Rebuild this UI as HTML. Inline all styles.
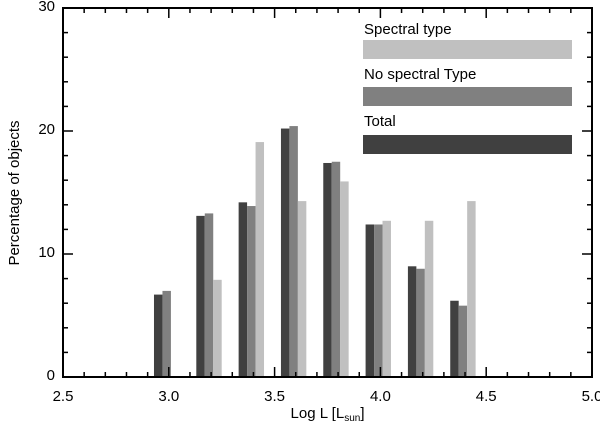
<!DOCTYPE html>
<html><head><meta charset="utf-8"><style>
body{margin:0;background:#fff}
svg text{font-family:"Liberation Sans",sans-serif;fill:#000}
</style></head><body>
<svg id="chart" width="600" height="432" xmlns="http://www.w3.org/2000/svg"></svg>
<script>
const categories=[3.0,3.2,3.4,3.6,3.8,4.0,4.2,4.4];
const totalValues=[6.7,13.1,14.2,20.2,17.4,12.4,9.0,6.2];
const noSpecValues=[7.0,13.3,13.9,20.4,17.5,12.4,8.8,5.8];
const specValues=[0,7.9,19.1,14.3,15.9,12.7,12.7,14.3];
const xTickLabels=["2.5","3.0","3.5","4.0","4.5","5.0"];
const yTickLabels=["0","10","20","30"];
const L=63,R=592,T=8,B=377;
const xMin=2.5,xMax=5.0,yMin=0,yMax=30;
const X=v=>L+(v-xMin)/(xMax-xMin)*(R-L);
const Y=v=>B-(v-yMin)/(yMax-yMin)*(B-T);
const svg=document.getElementById('chart');
const NS="http://www.w3.org/2000/svg";
function mk(tag,attrs,parent){const e=document.createElementNS(NS,tag);for(const k in attrs)e.setAttribute(k,attrs[k]);(parent||svg).appendChild(e);return e;}
const series=[[totalValues,"#404040",-0.07,"total"],[noSpecValues,"#808080",-0.03,"no-spectral-type"],[specValues,"#c0c0c0",0.01,"spectral-type"]];
series.forEach(([vals,col,off,nm])=>{
  vals.forEach((v,i)=>{
    if(v<=0)return;
    const x0=X(categories[i]+off),x1=X(categories[i]+off+0.04);
    const r=mk('rect',{x:x0,y:Y(v),width:x1-x0,height:Y(0)-Y(v),fill:col});
    
    
  });
});
// axes box
const box=mk('rect',{x:L,y:T,width:R-L,height:B-T,fill:'none',stroke:'#000','stroke-width':2});


// x ticks
for(let k=0;k<=25;k++){
  const v=xMin+k*0.1,x=X(v),len=(k%5===0)?10:5;
  mk('line',{x1:x,y1:B,x2:x,y2:B-len,stroke:'#000','stroke-width':1.5});
  mk('line',{x1:x,y1:T,x2:x,y2:T+len,stroke:'#000','stroke-width':1.5});
}
xTickLabels.forEach(s=>{
  const t=mk('text',{x:X(parseFloat(s)),y:B+24,'text-anchor':'middle','font-size':15});
  t.textContent=s;
  
  
});
// y ticks
for(let k=0;k<=15;k++){
  const v=k*2,y=Y(v),len=(k%5===0)?10:5;
  mk('line',{x1:L,y1:y,x2:L+len,y2:y,stroke:'#000','stroke-width':1.5});
  mk('line',{x1:R,y1:y,x2:R-len,y2:y,stroke:'#000','stroke-width':1.5});
}
yTickLabels.forEach(s=>{
  const t=mk('text',{x:L-8,y:Y(parseFloat(s))+3,'text-anchor':'end','font-size':15});
  t.textContent=s;
  
  
});
const xt=mk('text',{x:(L+R)/2,y:418,'text-anchor':'middle','font-size':15});
xt.innerHTML='Log L [L<tspan font-size="10" dy="3">sun</tspan><tspan dy="-3">]</tspan>';


const yt=mk('text',{x:0,y:0,'text-anchor':'middle','font-size':15,transform:'translate(19,193) rotate(-90)'});
yt.textContent='Percentage of objects';


// legend
const legend=[["Spectral type","#c0c0c0",34,40],["No spectral Type","#808080",79,87],["Total","#404040",126,135]];
legend.forEach(([lab,col,ty,ry])=>{
  const t=mk('text',{x:364,y:ty,'font-size':15});
  t.textContent=lab;
  
  
  const r=mk('rect',{x:363,y:ry,width:209,height:19,fill:col});
  
  
});
</script>
</body></html>
